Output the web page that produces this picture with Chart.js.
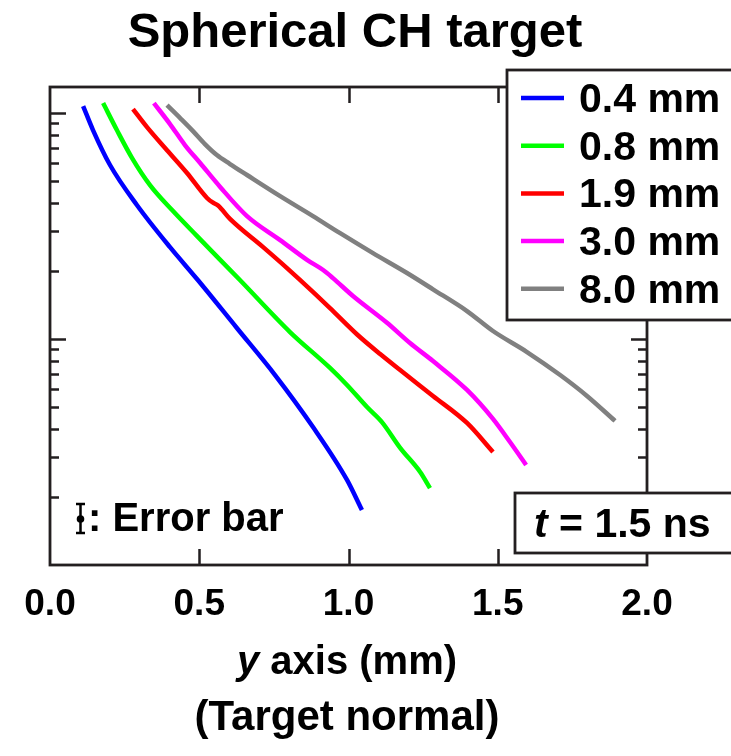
<!DOCTYPE html>
<html><head><meta charset="utf-8">
<script src="https://cdn.jsdelivr.net/npm/chart.js@4.4.1/dist/chart.umd.min.js"></script>
<style>html,body{margin:0;padding:0;background:#fff}#wrap{width:731px;height:756px}</style>
</head><body><div id="wrap"><canvas id="c" width="731" height="756"></canvas></div>
<script>
const chartTitle = 'Spherical CH target';
const xAxisItalic = 'y';
const xAxisRest = ' axis (mm)';
const xAxisLine2 = '(Target normal)';
const seriesLabels = ['0.4 mm', '0.8 mm', '1.9 mm', '3.0 mm', '8.0 mm'];
const seriesColors = ['#0000ff', '#00ff00', '#ff0000', '#ff00ff', '#808080'];

const x04 = [0.111,0.144,0.201,0.291,0.402,0.496,0.626,0.754,0.881,0.995,1.045];
const y04 = [107.4,84.1,58.9,39.2,25.5,18.2,11.19,6.93,4.08,2.38,1.75];

const x08 = [0.178,0.224,0.275,0.335,0.409,0.492,0.637,0.804,0.938,0.995,1.062,1.112,1.173,1.240,1.273];
const y08 = [110.7,84.1,63.2,48.0,37.2,28.6,18.2,10.74,7.45,6.26,5.00,4.29,3.30,2.58,2.19];

const x19 = [0.278,0.325,0.392,0.459,0.526,0.545,0.563,0.603,0.714,0.794,0.878,0.938,1.028,1.106,1.173,1.283,1.397,1.484];
const y19 = [104.2,86.7,68.5,54.3,42.1,40.2,39.0,34.0,25.5,20.6,16.3,13.7,10.5,8.58,7.29,5.60,4.25,3.16];

const x30 = [0.348,0.402,0.452,0.503,0.570,0.660,0.771,0.861,0.915,0.948,1.015,1.129,1.206,1.283,1.397,1.484,1.541,1.595];
const y30 = [110.7,89.4,72.2,60.1,47.1,35.0,27.4,22.4,20.2,18.6,15.5,11.8,9.60,7.99,5.95,4.43,3.50,2.77];

const x80 = [0.392,0.436,0.479,0.519,0.559,0.603,0.660,0.771,0.881,0.972,1.082,1.196,1.283,1.397,1.484,1.598,1.709,1.799,1.893];
const y80 = [108.4,95.0,83.2,72.9,65.2,59.5,53.2,42.9,35.0,29.4,24.0,19.6,16.6,13.3,10.85,8.76,6.93,5.60,4.34];

const xTickLabels = ['0.0', '0.5', '1.0', '1.5', '2.0'];
const xInnerTicks = [0.5, 1.0, 1.5];
const yTickValues = [1,2,3,4,5,6,7,8,9,10,20,30,40,50,60,70,80,90,100];
const yMin = 1, yMax = 130.4;
const timeLabel = ' = 1.5 ns';
const errorLabel = ': Error bar';

const xsAll = [x04, x08, x19, x30, x80];
const ysAll = [y04, y08, y19, y30, y80];

const FONT = "'Liberation Sans', Arial, Helvetica, sans-serif";
const INK = '#231f20';

const overlay = {
  id: 'overlay',
  afterDraw(chart) {
    const ctx = chart.ctx;
    const a = chart.chartArea;
    const xs = chart.scales.x, ys = chart.scales.y;
    ctx.save();
    ctx.strokeStyle = INK;
    ctx.lineWidth = 2.5;
    ctx.lineCap = 'butt';
    yTickValues.forEach(v => {
      const p = Math.round(ys.getPixelForValue(v)) + 0.5;
      if (p <= a.top + 1 || p >= a.bottom - 1) return;
      const major = Math.abs(Math.log10(v) - Math.round(Math.log10(v))) < 1e-9;
      const len = major ? 16 : 9;
      ctx.beginPath();
      ctx.moveTo(a.left, p); ctx.lineTo(a.left + len, p);
      ctx.moveTo(a.right, p); ctx.lineTo(a.right - len, p);
      ctx.stroke();
    });
    xInnerTicks.forEach(v => {
      const p = Math.round(xs.getPixelForValue(v)) + 0.5;
      ctx.beginPath();
      ctx.moveTo(p, a.bottom); ctx.lineTo(p, a.bottom - 16);
      ctx.moveTo(p, a.top); ctx.lineTo(p, a.top + 16);
      ctx.stroke();
    });
    ctx.lineWidth = 2.8;
    ctx.strokeRect(a.left, a.top, a.right - a.left, a.bottom - a.top);

    // title
    ctx.fillStyle = '#000';
    ctx.textBaseline = 'alphabetic';
    ctx.textAlign = 'center';
    ctx.font = 'bold 49px ' + FONT;
    ctx.fillText(chartTitle, 355, 47);

    // x axis title
    ctx.textAlign = 'left';
    const fs = 40;
    ctx.font = 'italic bold ' + fs + 'px ' + FONT;
    const w1 = ctx.measureText(xAxisItalic).width;
    ctx.font = 'bold ' + fs + 'px ' + FONT;
    const w2 = ctx.measureText(xAxisRest).width;
    let sx = 347 - (w1 + w2) / 2;
    ctx.font = 'italic bold ' + fs + 'px ' + FONT;
    ctx.fillText(xAxisItalic, sx, 674);
    ctx.font = 'bold ' + fs + 'px ' + FONT;
    ctx.fillText(xAxisRest, sx + w1, 674);
    ctx.textAlign = 'center';
    ctx.font = 'bold 42px ' + FONT;
    ctx.fillText(xAxisLine2, 347, 730);

    // legend box
    ctx.fillStyle = '#fff';
    ctx.fillRect(507, 70, 240, 250);
    ctx.strokeStyle = INK;
    ctx.lineWidth = 2.8;
    ctx.strokeRect(507, 70, 240, 250);
    ctx.textAlign = 'left';
    ctx.font = 'bold 41px ' + FONT;
    chart.data.datasets.forEach((ds, i) => {
      const yy = 98 + i * 47.7;
      ctx.strokeStyle = ds.borderColor;
      ctx.lineWidth = 4.5;
      ctx.beginPath(); ctx.moveTo(521, yy); ctx.lineTo(564, yy); ctx.stroke();
      ctx.fillStyle = '#000';
      ctx.fillText(ds.label, 579, yy + 14);
    });

    // time box
    ctx.fillStyle = '#fff';
    ctx.fillRect(515, 493, 230, 60);
    ctx.strokeStyle = INK;
    ctx.lineWidth = 2.8;
    ctx.strokeRect(515, 493, 230, 60);
    ctx.fillStyle = '#000';
    ctx.font = 'italic bold 41px ' + FONT;
    ctx.fillText('t', 534, 537);
    const tw = ctx.measureText('t').width;
    ctx.font = 'bold 41px ' + FONT;
    ctx.fillText(timeLabel, 534 + tw, 537);

    // error bar note
    ctx.strokeStyle = '#000';
    ctx.lineWidth = 2.5;
    ctx.beginPath();
    ctx.moveTo(80.5, 504); ctx.lineTo(80.5, 533);
    ctx.moveTo(76, 504); ctx.lineTo(85, 504);
    ctx.moveTo(76, 533); ctx.lineTo(85, 533);
    ctx.stroke();
    ctx.beginPath(); ctx.arc(80.5, 519, 3.8, 0, Math.PI * 2); ctx.fill();
    ctx.font = 'bold 40px ' + FONT;
    ctx.fillText(errorLabel, 88, 531);
    ctx.restore();
  }
};

new Chart(document.getElementById('c'), {
  type: 'line',
  data: {
    datasets: seriesLabels.map((lab, i) => ({
      label: lab,
      data: xsAll[i].map((x, j) => ({ x: x, y: ysAll[i][j] })),
      borderColor: seriesColors[i],
      backgroundColor: seriesColors[i],
      borderWidth: 4.5,
      pointRadius: 0,
      cubicInterpolationMode: 'monotone',
      fill: false
    }))
  },
  options: {
    responsive: false,
    animation: false,
    devicePixelRatio: 1,
    layout: { padding: { top: 87, right: 84, left: 0, bottom: 0 } },
    plugins: { legend: { display: false }, title: { display: false }, tooltip: { enabled: false } },
    scales: {
      x: {
        type: 'linear', min: 0, max: 2,
        grid: { display: false, drawTicks: false }, border: { display: false },
        ticks: {
          stepSize: 0.5, padding: 18, color: '#000', maxRotation: 0, autoSkip: false,
          font: { family: FONT, size: 37, weight: 'bold' },
          callback: (v) => xTickLabels[Math.round(v / 0.5)]
        },
        afterFit: (s) => { s.height = 191; }
      },
      y: {
        type: 'logarithmic', min: yMin, max: yMax,
        grid: { display: false, drawTicks: false }, border: { display: false },
        ticks: { display: false },
        afterFit: (s) => { s.width = 50; }
      }
    }
  },
  plugins: [overlay]
});
</script></body></html>
